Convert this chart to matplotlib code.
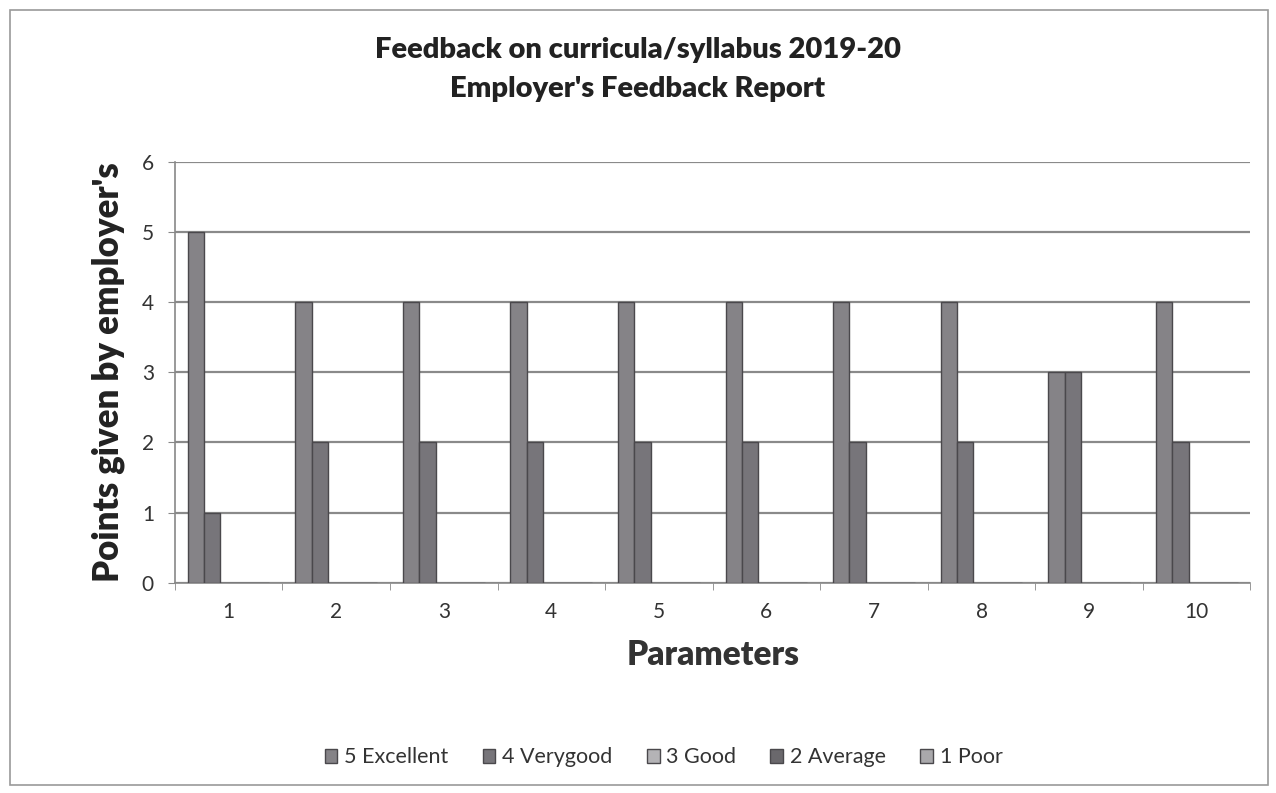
import numpy as np
import matplotlib.pyplot as plt
from matplotlib.patches import Rectangle

plt.rcParams['font.family'] = ['Lato', 'DejaVu Sans']

params = [str(i) for i in range(1, 11)]
series = ['5 Excellent', '4 Verygood', '3 Good', '2 Average', '1 Poor']
excellent = [5, 4, 4, 4, 4, 4, 4, 4, 3, 4]
verygood = [1, 2, 2, 2, 2, 2, 2, 2, 3, 2]
good = [0, 0, 0, 0, 0, 0, 0, 0, 0, 0]
average = [0, 0, 0, 0, 0, 0, 0, 0, 0, 0]
poor = [0, 0, 0, 0, 0, 0, 0, 0, 0, 0]
colors = ['#858387', '#77757a', '#b4b3b6', '#6a686c', '#a9a8ab']

fig = plt.figure(figsize=(12.76, 7.93), dpi=100)
fig.patches.append(Rectangle((0.008, 0.01), 0.986, 0.978, transform=fig.transFigure,
                             fill=False, edgecolor='#9a9a9a', lw=1.2))

ax = fig.add_axes([0.137, 0.265, 0.843, 0.531])
x = np.arange(len(params))
w = 0.152
for i, (name, vals) in enumerate(zip(series, [excellent, verygood, good, average, poor])):
    ax.bar(x - 2 * w + i * w - w / 2, vals, w, align='edge', color=colors[i],
           edgecolor='#4a484c', linewidth=1.0, label=name, zorder=3)

ax.set_xlim(-0.5, len(params) - 0.5)
ax.set_ylim(0, 6)
ax.set_yticks(range(7))
ax.grid(axis='y', color='#8a8a8a', lw=1.6, zorder=0)
ax.set_xticks(x)
ax.set_xticklabels(params)
ax.set_xticks(np.arange(-0.5, len(params)), minor=True)
ax.tick_params(axis='x', which='major', length=0, pad=14, labelsize=15, colors='#333333')
ax.tick_params(axis='x', which='minor', length=5, color='#888888')
ax.tick_params(axis='y', length=5, color='#888888', labelsize=15, pad=10, colors='#333333')
for s in ['top', 'right']:
    ax.spines[s].set_visible(False)
for s in ['left', 'bottom']:
    ax.spines[s].set_color('#888888')
    ax.spines[s].set_linewidth(1.2)

ax.set_xlabel('Parameters', fontsize=24, fontweight='heavy', color='#333333', labelpad=12)
ax.set_ylabel("Points given by employer's", fontsize=25, fontweight='heavy', color='#222222', labelpad=12)

fig.text(0.5, 0.937, 'Feedback on curricula/syllabus 2019-20', ha='center', va='center',
         fontsize=21, fontweight='heavy', color='#222222')
fig.text(0.5, 0.888, "Employer's Feedback Report", ha='center', va='center',
         fontsize=21, fontweight='heavy', color='#222222')

fig.legend(loc='center', bbox_to_anchor=(0.52, 0.045), ncol=5, frameon=False,
           fontsize=15.5, handlelength=0.6, handleheight=0.6, handletextpad=0.3, columnspacing=1.6,
           labelcolor='#333333')

fig.savefig('out.png', dpi=100)
